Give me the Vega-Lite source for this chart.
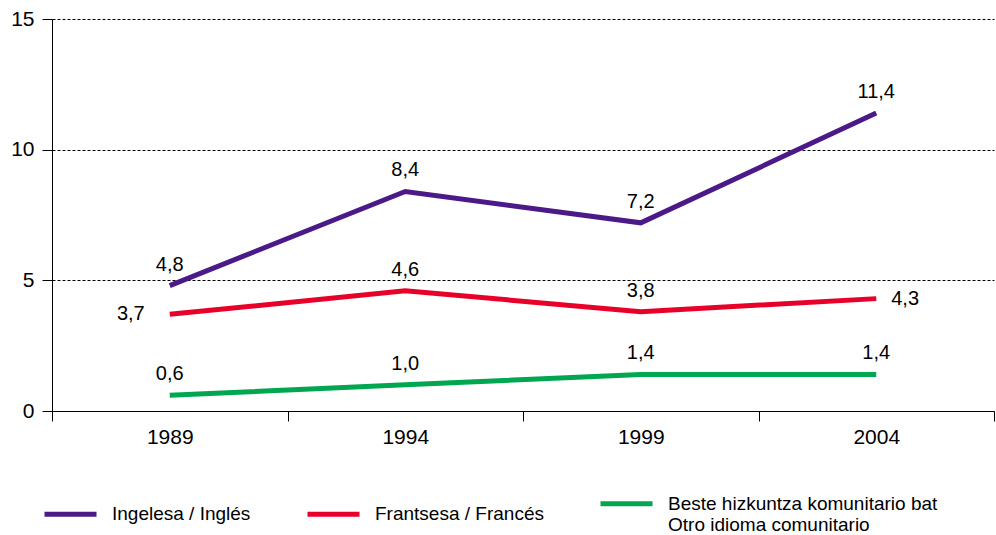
{
  "$schema": "https://vega.github.io/schema/vega-lite/v6.json",
  "width": 942,
  "height": 392,
  "autosize": {"type": "none"},
  "padding": {"left": 52, "top": 19, "right": 2, "bottom": 124},
  "config": {"view": {"stroke": null}, "font": "Liberation Sans"},
  "data": {
    "values": [
      {"year": "1989", "lang": "Ingelesa", "v": 4.8},
      {"year": "1994", "lang": "Ingelesa", "v": 8.4},
      {"year": "1999", "lang": "Ingelesa", "v": 7.2},
      {"year": "2004", "lang": "Ingelesa", "v": 11.4},
      {"year": "1989", "lang": "Frantsesa", "v": 3.7},
      {"year": "1994", "lang": "Frantsesa", "v": 4.6},
      {"year": "1999", "lang": "Frantsesa", "v": 3.8},
      {"year": "2004", "lang": "Frantsesa", "v": 4.3},
      {"year": "1989", "lang": "Beste", "v": 0.6},
      {"year": "1994", "lang": "Beste", "v": 1.0},
      {"year": "1999", "lang": "Beste", "v": 1.4},
      {"year": "2004", "lang": "Beste", "v": 1.4}
    ]
  },
  "transform": [
    {"calculate": "replace(format(datum.v, '.1f'), '.', ',')", "as": "lbl"}
  ],
  "encoding": {
    "x": {
      "field": "year",
      "type": "ordinal",
      "scale": {"type": "band", "paddingInner": 0, "paddingOuter": 0},
      "axis": {
        "title": null,
        "labelAngle": 0,
        "tickBand": "extent",
        "tickSize": 10,
        "tickColor": "black",
        "domainColor": "black",
        "labelFontSize": 21,
        "labelColor": "black",
        "labelPadding": 5,
        "grid": false
      }
    },
    "y": {
      "field": "v",
      "type": "quantitative",
      "scale": {"domain": [0, 15], "nice": false},
      "axis": {
        "title": null,
        "values": [0, 5, 10, 15],
        "grid": true,
        "gridColor": "black",
        "gridDash": [3, 2],
        "gridWidth": 1,
        "gridOpacity": 1,
        "tickSize": 10,
        "tickColor": "black",
        "domainColor": "black",
        "labelFontSize": 21,
        "labelColor": "black",
        "labelPadding": 8
      }
    }
  },
  "layer": [
    {
      "mark": {"type": "line", "strokeWidth": 5, "strokeCap": "butt"},
      "encoding": {
        "color": {
          "field": "lang",
          "type": "nominal",
          "scale": {
            "domain": ["Ingelesa", "Frantsesa", "Beste"],
            "range": ["#4b1a88", "#e8002a", "#00a650"]
          },
          "legend": {
            "title": null,
            "orient": "none",
            "direction": "horizontal",
            "legendX": -10,
            "legendY": 456,
            "symbolType": "stroke",
            "symbolSize": 2704,
            "symbolStrokeWidth": 5,
            "labelFontSize": 19,
            "labelColor": "black",
            "labelOffset": 13,
            "labelLimit": 400,
            "columnPadding": 46,
            "labelExpr": "datum.label == 'Ingelesa' ? 'Ingelesa / Inglés' : datum.label == 'Frantsesa' ? 'Frantsesa / Francés' : ['Beste hizkuntza komunitario bat', 'Otro idioma comunitario']"
          }
        }
      }
    },
    {
      "transform": [
        {"filter": "!(datum.lang == 'Frantsesa' && (datum.year == '1989' || datum.year == '2004'))"}
      ],
      "mark": {"type": "text", "dy": -21, "fontSize": 20, "color": "black"},
      "encoding": {"text": {"field": "lbl"}}
    },
    {
      "transform": [
        {"filter": "datum.lang == 'Frantsesa' && datum.year == '1989'"}
      ],
      "mark": {"type": "text", "align": "right", "dx": -25, "fontSize": 20, "color": "black"},
      "encoding": {"text": {"field": "lbl"}}
    },
    {
      "transform": [
        {"filter": "datum.lang == 'Frantsesa' && datum.year == '2004'"}
      ],
      "mark": {"type": "text", "align": "left", "dx": 15, "fontSize": 20, "color": "black"},
      "encoding": {"text": {"field": "lbl"}}
    }
  ]
}
